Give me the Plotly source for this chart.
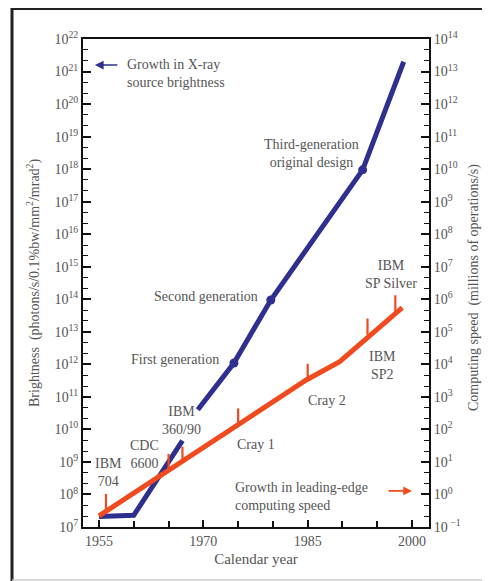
import plotly.graph_objects as go

# ---------------- data ----------------
# X-ray source brightness (photons/s/0.1%bw/mm^2/mrad^2)
bright_years = [1955, 1960, 1967, None, 1969.2, 1974.4, 1979.7, 1992.9, 1998.8]
bright_vals = [2.1e7, 2.3e7, 4.5e9, None, 4.0e10, 1.1e12, 9.5e13, 9.5e17, 2.0e21]

gen_names = ["First generation", "Second generation", "Third-generation<br>original design"]
gen_years = [1974.4, 1979.7, 1992.9]
gen_vals = [1.1e12, 9.5e13, 9.5e17]

# leading-edge computing speed (millions of operations/s)
speed_years = [1955, 1984.8, 1989.6, 1998.6]
speed_vals = [0.22, 3.3e3, 1.2e4, 5.5e5]

comp_names = ["IBM<br>704", "CDC<br>6600", "IBM<br>360/90", "Cray 1", "Cray 2", "IBM<br>SP2", "IBM<br>SP Silver"]
comp_years = [1956, 1965, 1967, 1975, 1985, 1993.6, 1997.6]
comp_speeds = [0.33, 5.6, 9.3, 140, 3.3e3, 8.1e4, 4.2e5]

left_exps = list(range(7, 23))
right_exps = list(range(-1, 15))
year_ticks = [1955, 1970, 1985, 2000]

# ---------------- style ----------------
BLUE = "#2f2f8f"
RED = "#f04a1e"
TXT = "#555555"
FONT = "Liberation Serif"
FS = 14
TICK_FACTOR = 10 ** 0.5

# page body has an 8px margin; lay out the figure so it lands where the reference is
OFF = 8
W, H = 482, 573
L, R, Tm, B = 83 - OFF, W - (429 - OFF), 39 - OFF, H - (527 - OFF)
pw, ph = W - L - R, H - Tm - B

def px(x):  # reference pixel x -> paper
    return (x - OFF - L) / pw

def py(y):  # reference pixel y -> paper
    return (H - B - (y - OFF)) / ph

fig = go.Figure()

fig.add_trace(go.Scatter(x=bright_years, y=bright_vals, mode="lines",
                         line=dict(color=BLUE, width=5), connectgaps=False,
                         hoverinfo="skip", showlegend=False))
fig.add_trace(go.Scatter(x=gen_years, y=gen_vals, mode="markers",
                         marker=dict(color=BLUE, size=9, symbol="circle"),
                         hoverinfo="skip", showlegend=False))

fig.add_trace(go.Scatter(x=speed_years, y=speed_vals, mode="lines", yaxis="y2",
                         line=dict(color=RED, width=5),
                         hoverinfo="skip", showlegend=False))
tx, ty = [], []
for yr, sp in zip(comp_years, comp_speeds):
    tx += [yr, yr, None]
    ty += [sp, sp * TICK_FACTOR, None]
fig.add_trace(go.Scatter(x=tx, y=ty, mode="lines", yaxis="y2",
                         line=dict(color=RED, width=2.2), connectgaps=False,
                         hoverinfo="skip", showlegend=False))

def minor_vals(exps):
    out = []
    for e in exps[:-1]:
        out += [10.0 ** (e + 1 / 3), 10.0 ** (e + 2 / 3)]
    return out

def lab(e):
    if e < 0:
        return "10<sup> \u2212%d</sup>" % (-e)
    return "10<sup>%d</sup>" % e

axis_font = dict(family=FONT, size=FS, color=TXT)
ycommon = dict(ticks="inside", ticklen=8, tickwidth=1.5, tickcolor="#111",
               showline=True, linecolor="#111", linewidth=2, showgrid=False,
               zeroline=False, tickfont=axis_font, automargin=False)

fig.update_layout(
    width=W, height=H,
    margin=dict(l=L, r=R, t=Tm, b=B, autoexpand=False),
    paper_bgcolor="white", plot_bgcolor="white",
    font=dict(family=FONT, size=FS, color=TXT),
    showlegend=False,
    xaxis=dict(range=[1952.7, 2002.44], tickmode="array", tickvals=year_ticks,
               ticktext=[str(v) for v in year_ticks], ticks="inside", ticklen=7,
               tickwidth=1.5, tickcolor="#111", showline=True, linecolor="#111",
               linewidth=2, mirror=True, showgrid=False, zeroline=False,
               tickfont=axis_font, automargin=False,
               minor=dict(tickmode="linear", tick0=1955, dtick=5, ticks="inside",
                          ticklen=6, tickwidth=1.5, tickcolor="#111", showgrid=False),
               title=dict(text="Calendar year", font=dict(family=FONT, size=15, color=TXT),
                          standoff=6)),
    yaxis=dict(type="log", range=[7, 22], tickmode="array",
               tickvals=[10.0 ** e for e in left_exps], ticktext=[lab(e) for e in left_exps],
               minor=dict(tickvals=minor_vals(left_exps), ticks="inside", ticklen=5,
                          tickwidth=1.3, tickcolor="#111", showgrid=False),
               **ycommon),
    yaxis2=dict(type="log", range=[-1, 14], overlaying="y", side="right",
                tickmode="array", tickvals=[10.0 ** e for e in right_exps],
                ticktext=[lab(e) for e in right_exps],
                minor=dict(tickvals=minor_vals(right_exps), ticks="inside", ticklen=5,
                           tickwidth=1.3, tickcolor="#111", showgrid=False),
                **ycommon),
)

ann = []
def T(text, x, y, xanchor="center"):
    ann.append(dict(text=text, x=x, y=y, xref="x", yref="y", showarrow=False,
                    xanchor=xanchor, yanchor="middle",
                    align="center" if xanchor == "center" else "left",
                    font=dict(family=FONT, size=FS, color=TXT)))

# labels (positions in axis units: year, log10 brightness)
T("Growth in X-ray<br>source brightness", 1958.8, 20.93, xanchor="left")
T(gen_names[2], 1985.6, 18.47)
T(gen_names[1], 1970.4, 14.10)
T(gen_names[0], 1965.9, 12.16)
T(comp_names[2], 1966.9, 10.26)
T(comp_names[1], 1961.6, 9.24)
T(comp_names[0], 1956.3, 8.66)
T(comp_names[3], 1977.6, 9.55)
T(comp_names[4], 1987.8, 10.9)
T(comp_names[5], 1995.7, 11.95)
T(comp_names[6], 1997.0, 14.75)
T("Growth in leading-edge<br>computing speed", 1974.2, 7.95, xanchor="left")

# arrows
ann.append(dict(x=1954.4, y=21.2, xref="x", yref="y", ax=24, ay=0, text="",
                showarrow=True, arrowhead=2, arrowsize=1.1, arrowwidth=1.6, arrowcolor=BLUE))
ann.append(dict(x=2000.0, y=8.11, xref="x", yref="y", ax=-25, ay=0, text="",
                showarrow=True, arrowhead=2, arrowsize=1.1, arrowwidth=1.6, arrowcolor=RED))

# axis titles
ann.append(dict(text="Brightness  (photons/s/0.1%bw/mm<sup>2</sup>/mrad<sup>2</sup>)",
                x=px(33), y=py(283), xref="paper", yref="paper", showarrow=False,
                xanchor="center", yanchor="middle",
                textangle=-90, font=dict(family=FONT, size=FS, color=TXT)))
ann.append(dict(text="Computing speed  (millions of operations/s)",
                x=px(474), y=py(288), xref="paper", yref="paper", showarrow=False,
                xanchor="center", yanchor="middle",
                textangle=-90, font=dict(family=FONT, size=FS, color=TXT)))
fig.update_layout(annotations=ann)

# outer frame
fig.add_shape(type="line", xref="paper", yref="paper", x0=px(12), x1=px(12),
              y0=(H - B) / ph, y1=py(600), line=dict(color="#222", width=3))
fig.add_shape(type="line", xref="paper", yref="paper", x0=px(12), x1=px(500),
              y0=(H - B - 0.8) / ph, y1=(H - B - 0.8) / ph, line=dict(color="#222", width=2.5))
fig.add_shape(type="line", xref="paper", yref="paper", x0=px(12), x1=px(500),
              y0=py(580), y1=py(580), line=dict(color="#cccccc", width=1.5))

fig.write_html("out.html")
